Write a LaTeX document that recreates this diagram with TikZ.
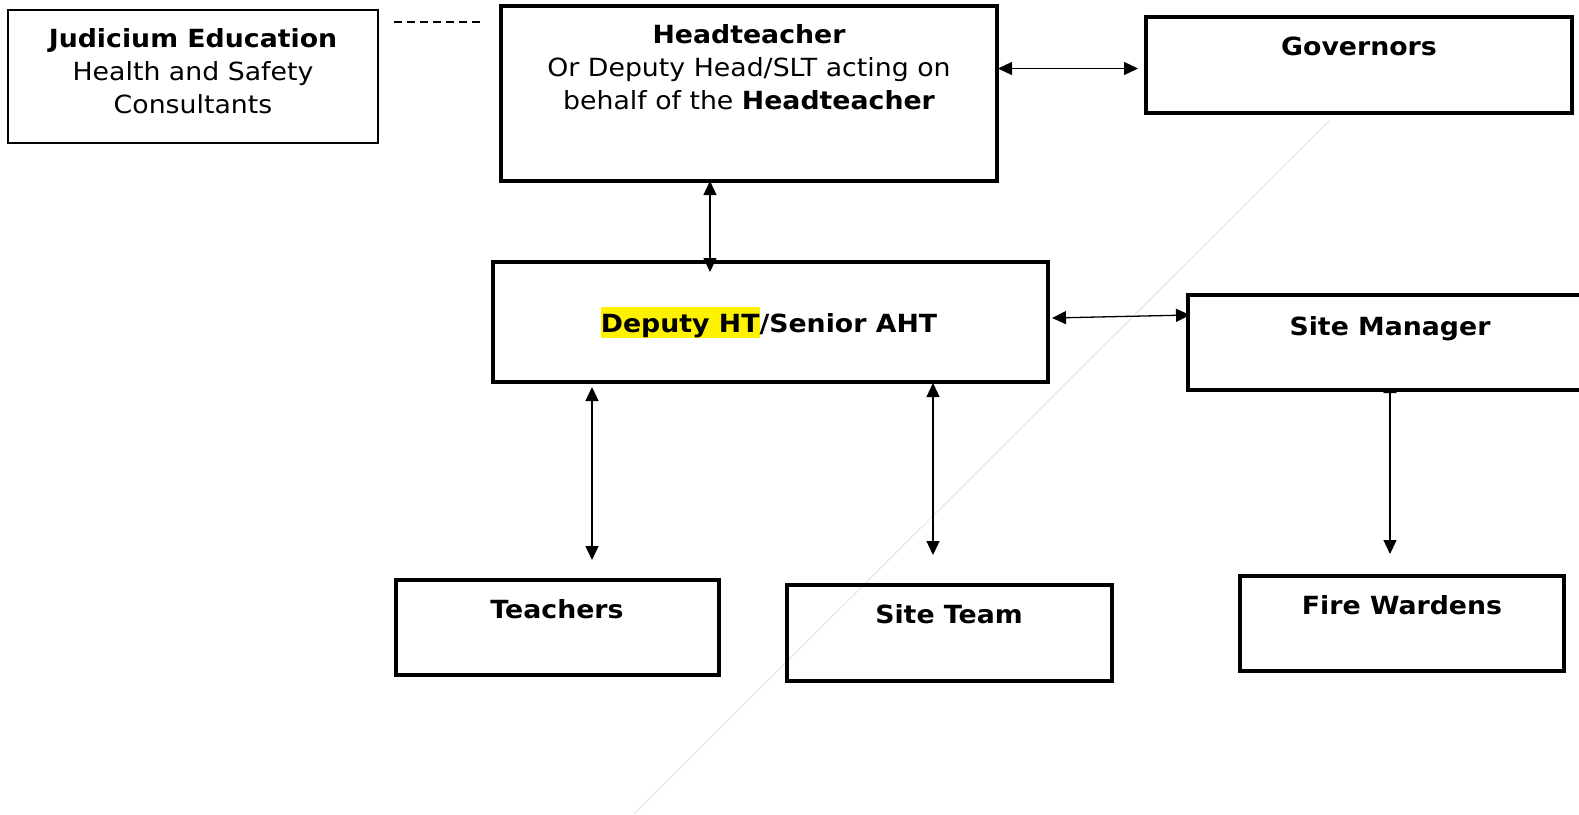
\documentclass[tikz,border=0pt]{standalone}
\usepackage{fontspec}
\setmainfont[FakeStretch=1.07]{DejaVu Sans}
\usetikzlibrary{arrows.meta}
\begin{document}
\begin{tikzpicture}[x=1pt,y=-1pt,
  thinbox/.style={draw=black,line width=1.6pt,fill=none},
  thickbox/.style={draw=black,line width=3.6pt,fill=none},
  lbl/.style={anchor=base,inner sep=0pt,font=\fontsize{25}{33}\selectfont,align=center},
  link/.style={line width=1.3pt,{Triangle[length=14pt,width=13pt]}-{Triangle[length=14pt,width=13pt]}},
  faint/.style={draw=black!9,line width=1.2pt}
]
\useasboundingbox (0,0) rectangle (1579,814);
% faint diagonal stroke
\coordinate (d1) at (1329,121);
\coordinate (d2) at (634,814);
\draw[faint] (d1) -- (d2);

% connector hidden partly under the Site Manager box
\coordinate (g1) at (1390,379);
\coordinate (g2) at (1390,554);
\draw[link] (g1) -- (g2);

% boxes
\draw[thinbox] (8,10) rectangle (378,143);
\node[inner sep=0pt,minimum width=370pt,minimum height=133pt] (jud) at (193,76.5) {};
\draw[thickbox] (501,6) rectangle (997,181);
\node[inner sep=0pt,minimum width=496pt,minimum height=175pt] (ht) at (749,93.5) {};
\draw[thickbox] (1146,17) rectangle (1572,113);
\node[inner sep=0pt,minimum width=426pt,minimum height=96pt] (gov) at (1359,65) {};
\draw[thickbox] (493,262) rectangle (1048,382);
\node[inner sep=0pt,minimum width=555pt,minimum height=120pt] (dep) at (770.5,322) {};
\draw[thickbox,fill=white] (1188,295) rectangle (1590,390);
\node[inner sep=0pt,minimum width=402pt,minimum height=95pt] (sm) at (1389,342.5) {};
\draw[thickbox] (396,580) rectangle (719,675);
\node[inner sep=0pt,minimum width=323pt,minimum height=95pt] (tea) at (557.5,627.5) {};
\draw[thickbox] (787,585) rectangle (1112,681);
\node[inner sep=0pt,minimum width=325pt,minimum height=96pt] (st) at (949.5,633) {};
\draw[thickbox] (1240,576) rectangle (1564,671);
\node[inner sep=0pt,minimum width=324pt,minimum height=95pt] (fw) at (1402,623.5) {};

% texts (base = baseline of the last line)
\node[lbl] (judT) at (193,113) {\textbf{Judicium Education}\\Health and Safety\\Consultants};
\node[lbl] (htT) at (749,109) {\textbf{Headteacher}\\Or Deputy Head/SLT acting on\\behalf of the \textbf{Headteacher}};
\node[lbl] (govT) at (1359,55) {\textbf{Governors}};
\node[lbl] (depT) at (769,332) {\setlength{\fboxsep}{0pt}\textbf{\colorbox{yellow}{\rule[-6pt]{0pt}{31pt}Deputy HT}/Senior AHT}};
\node[lbl] (smT) at (1390,335) {\textbf{Site Manager}};
\node[lbl] (teaT) at (557,618) {\textbf{Teachers}};
\node[lbl] (stT) at (949,623) {\textbf{Site Team}};
\node[lbl] (fwT) at (1402,614) {\textbf{Fire Wardens}};

% dashed link
\coordinate (dA) at (394,22);
\coordinate (dB) at (481,22);
\draw[line width=1.3pt,dash pattern=on 8pt off 5pt] (dA) -- (dB);

% connectors
\coordinate (a1) at (998,68.5);
\coordinate (a2) at (1138,68.5);
\draw[link] (a1) -- (a2);
\coordinate (b1) at (710,181);
\coordinate (b2) at (710,272);
\draw[link] (b1) -- (b2);
\coordinate (c1) at (1052,318);
\coordinate (c2) at (1190,315);
\draw[link] (c1) -- (c2);
\coordinate (e1) at (592,387);
\coordinate (e2) at (592,560);
\draw[link] (e1) -- (e2);
\coordinate (f1) at (933,383);
\coordinate (f2) at (933,555);
\draw[link] (f1) -- (f2);
\end{tikzpicture}
\end{document}
